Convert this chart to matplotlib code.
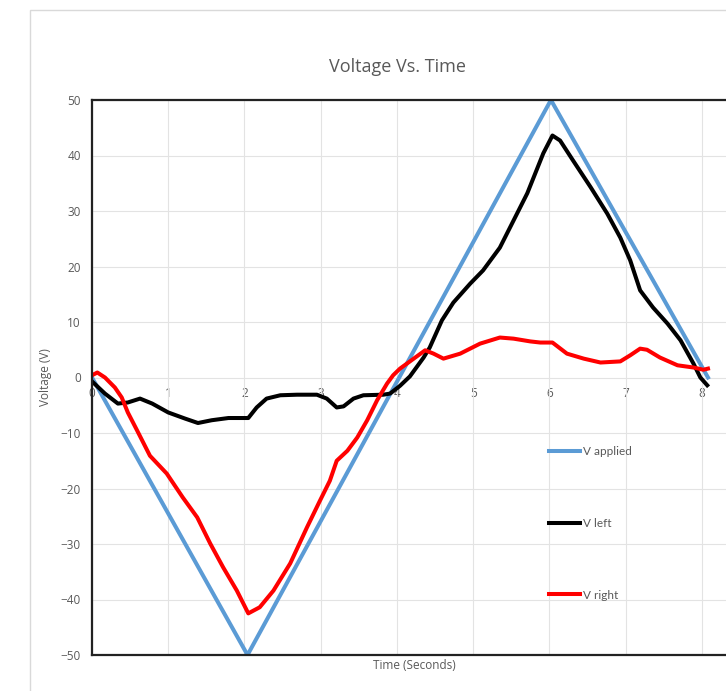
import matplotlib.pyplot as plt
from matplotlib.patches import Rectangle

# V applied (triangle wave)
t_applied = [0, 2.04, 6.02, 8.08]
v_applied = [0, -50, 50, 0]

# V left
t_left = [0, 0.17, 0.34, 0.47, 0.63, 0.79, 1.0, 1.22, 1.39, 1.57, 1.79, 2.05, 2.16, 2.29,
          2.47, 2.69, 2.95, 3.08, 3.21, 3.30, 3.43, 3.56, 3.82, 3.91, 4.04, 4.17, 4.35,
          4.43, 4.59, 4.74, 4.96, 5.13, 5.35, 5.53, 5.71, 5.92, 6.04, 6.14, 6.31, 6.54,
          6.76, 6.93, 7.06, 7.19, 7.36, 7.55, 7.72, 7.89, 7.98, 8.07]
v_left = [-0.7, -2.9, -4.7, -4.5, -3.8, -4.7, -6.3, -7.4, -8.2, -7.7, -7.3, -7.3, -5.4, -3.8,
          -3.2, -3.1, -3.1, -3.8, -5.4, -5.2, -3.8, -3.2, -3.1, -2.9, -1.5, 0.2, 3.6,
          5.4, 10.3, 13.5, 16.9, 19.3, 23.4, 28.3, 33.2, 40.4, 43.6, 42.7, 39.1, 34.3,
          29.5, 25.2, 21.1, 15.7, 12.6, 9.7, 6.7, 2.5, 0, -1.4]

# V right
t_right = [0, 0.07, 0.17, 0.30, 0.39, 0.47, 0.59, 0.76, 0.98, 1.19, 1.38, 1.55, 1.72, 1.90,
           2.05, 2.20, 2.38, 2.60, 2.82, 2.99, 3.12, 3.21, 3.35, 3.48, 3.61, 3.74, 3.87,
           3.95, 4.04, 4.22, 4.37, 4.48, 4.61, 4.83, 5.09, 5.35, 5.53, 5.75, 5.88, 6.04,
           6.23, 6.45, 6.67, 6.93, 7.06, 7.19, 7.28, 7.45, 7.68, 7.89, 8.02, 8.08]
v_right = [0.4, 0.9, 0, -1.8, -3.6, -6.3, -9.5, -14.1, -17.3, -21.6, -25.2, -29.9, -34.2, -38.4,
           -42.5, -41.4, -38.4, -33.5, -27.0, -22.2, -18.6, -15.0, -13.2, -10.8, -7.7, -4.1, -1.1,
           0.4, 1.6, 3.4, 4.9, 4.3, 3.4, 4.3, 6.1, 7.2, 7.0, 6.5, 6.3, 6.3,
           4.3, 3.4, 2.7, 2.9, 4.0, 5.2, 5.0, 3.6, 2.2, 1.8, 1.4, 1.6]

x_ticks = [0, 1, 2, 3, 4, 5, 6, 7, 8]
y_ticks = [-50, -40, -30, -20, -10, 0, 10, 20, 30, 40, 50]

text_gray = '#595959'
plt.rcParams['font.family'] = ['Open Sans', 'DejaVu Sans']

W, H = 726, 691
fig = plt.figure(figsize=(W / 100, H / 100), dpi=100)
fig.patches.append(Rectangle((30 / W, -0.01), 1, 1 - 10 / H + 0.01, transform=fig.transFigure,
                             fill=False, edgecolor='#d9d9d9', linewidth=1))

ax = fig.add_axes([92 / W, 1 - 655 / H, 648 / W, 555 / H])

lw = 2.9
ax.plot(t_applied, v_applied, color='#5B9BD5', lw=lw, label='V applied', solid_joinstyle='miter')
ax.plot(t_left, v_left, color='black', lw=lw, label='V left', solid_joinstyle='round')
ax.plot(t_right, v_right, color='#FF0000', lw=lw, label='V right', solid_joinstyle='round')

ax.set_xlim(0, 8.5)
ax.set_ylim(-50, 50)
ax.set_xticks(x_ticks)
ax.set_yticks(y_ticks)
ax.tick_params(axis='x', length=0, labelbottom=False)
ax.tick_params(axis='y', length=0, labelsize=8.5, labelcolor=text_gray, pad=8)
ax.grid(True, color='#e3e3e3', linewidth=0.8)
ax.set_axisbelow(True)

for side in ['left', 'top', 'bottom', 'right']:
    ax.spines[side].set_color('#222222')
    ax.spines[side].set_linewidth(1.6)

# x tick labels sit just below the y = 0 line
sec = ax.secondary_xaxis(0.5)
sec.set_xticks(x_ticks)
sec.xaxis.set_ticks_position('bottom')
sec.tick_params(length=0, labelsize=8.5, labelcolor=text_gray, pad=7)
for s in sec.spines.values():
    s.set_visible(False)

ax.set_title('Voltage Vs. Time', fontsize=13, color=text_gray, pad=20, x=0.472)
ax.set_xlabel('Time (Seconds)', fontsize=8.5, color=text_gray)
ax.set_ylabel('Voltage (V)', fontsize=8.5, color=text_gray)
ax.xaxis.set_label_coords(0.498, -0.008)
ax.yaxis.set_label_coords(-0.062, 0.5)

leg = ax.legend(loc='upper left', bbox_to_anchor=((549 - 92) / 648, (655 - 446) / 555),
                frameon=False, handlelength=2.6, handletextpad=0.25,
                labelspacing=5.15, borderpad=0, borderaxespad=0,
                prop={'family': 'Lato', 'size': 8.5})
for txt in leg.get_texts():
    txt.set_color(text_gray)

fig.savefig('out.png', dpi=100)
